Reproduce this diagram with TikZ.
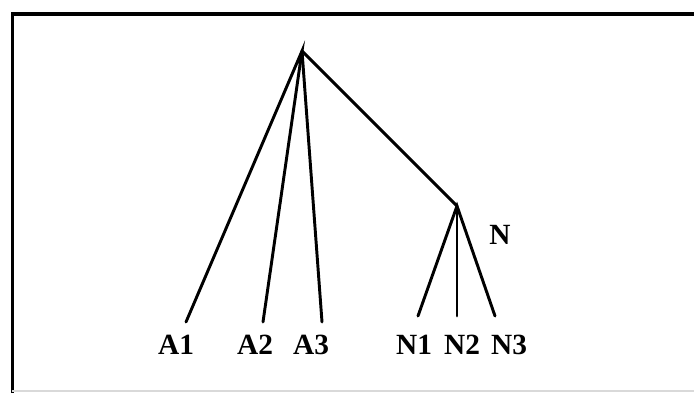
\documentclass[tikz,border=0pt]{standalone}
\usepackage{fontspec}
\setmainfont{Liberation Serif}
\begin{document}
\begin{tikzpicture}[x=0.75pt,y=-0.75pt,
  edge/.style={line width=2.2pt,line cap=round},
  lbl/.style={inner sep=0pt,font=\fontsize{22}{26}\selectfont\bfseries}]
\useasboundingbox (0,0) rectangle (694,393);
\fill[white] (0,0) rectangle (694,393);
% frame
\draw[line width=2.4pt] (694,14) -- (12.5,14) -- (12.5,393);
\draw[line width=0.8pt,black!15] (12,391) -- (694,391);
% nodes
\coordinate (root) at (302,51);
\coordinate (n) at (457,206);
\coordinate (a1) at (186,322);
\coordinate (a2) at (263,322);
\coordinate (a3) at (322,322);
\coordinate (n1) at (418,316);
\coordinate (n2) at (457,316);
\coordinate (n3) at (495,316);
\draw[edge] (a1) -- (root) -- (a2);
\draw[edge] (root) -- (a3);
\draw[edge] (root) -- (n);
\draw[edge] (n1) -- (n) -- (n3);
\draw[edge] (n) -- (n2);
\node[lbl] (la1) at (176,345) {A1};
\node[lbl] (la2) at (255,345) {A2};
\node[lbl] (la3) at (311,345) {A3};
\node[lbl] (ln1) at (414,345) {N1};
\node[lbl] (ln2) at (462,345) {N2};
\node[lbl] (ln3) at (509,345) {N3};
\node[lbl] (ln) at (500,235) {N};
\end{tikzpicture}
\end{document}
